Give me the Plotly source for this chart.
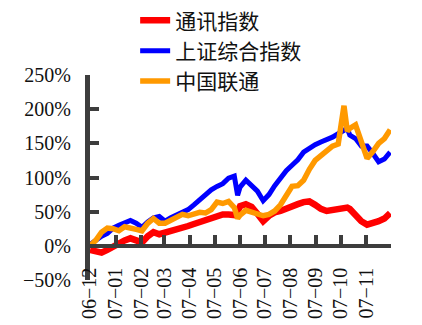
import plotly.graph_objects as go

dates = ["2006-12-01", "2006-12-08", "2006-12-15", "2006-12-22", "2006-12-29",
         "2007-01-05", "2007-01-12", "2007-01-19", "2007-01-26",
         "2007-02-02", "2007-02-09", "2007-02-16", "2007-02-23",
         "2007-03-02", "2007-03-09", "2007-03-16", "2007-03-23", "2007-03-30",
         "2007-04-06", "2007-04-13", "2007-04-20", "2007-04-27",
         "2007-05-04", "2007-05-11", "2007-05-18", "2007-05-25", "2007-05-29",
         "2007-06-01", "2007-06-08", "2007-06-15", "2007-06-22", "2007-06-29",
         "2007-07-06", "2007-07-13", "2007-07-20", "2007-07-27",
         "2007-08-03", "2007-08-10", "2007-08-17", "2007-08-24", "2007-08-31",
         "2007-09-07", "2007-09-14", "2007-09-21", "2007-09-28",
         "2007-10-05", "2007-10-09", "2007-10-12", "2007-10-19", "2007-10-26",
         "2007-11-02", "2007-11-09", "2007-11-16", "2007-11-23", "2007-11-30"]

telecom = [-6, -9, -10, -6, -1,
           3, 8, 11, 8,
           5, 14, 20, 17,
           19, 23, 24, 27, 29,
           32, 35, 38, 41,
           43, 46, 46, 45, 50,
           58, 61, 57, 47, 36,
           44, 49, 51, 55,
           58, 61, 64, 65, 60,
           54, 51, 53, 55,
           56, 56, 54, 45, 36,
           31, 33, 36, 40, 48]

shanghai = [2, 9, 14, 18, 26,
            30, 33, 37, 33,
            27, 35, 41, 43,
            36, 41, 45, 50, 53,
            60, 68, 74, 82,
            87, 91, 99, 102, 74,
            86, 96, 88, 80, 66,
            75, 88, 100, 110,
            118, 126, 137, 143, 148,
            152, 155, 159, 164,
            168, 172, 162, 157, 146,
            146, 135, 123, 127, 137]

unicom = [0, 8, 20, 26, 25,
          22, 28, 27, 24,
          22, 33, 40, 33,
          33, 37, 42, 46, 44,
          46, 49, 48, 53,
          64, 62, 65, 56, 40,
          45, 52, 50, 47, 44,
          46, 51, 60, 75,
          87, 88, 96, 112, 125,
          132, 140, 146, 149,
          205, 168, 172, 177, 155,
          128, 138, 150, 157, 170]

tick_dates = ["2006-12-01", "2007-01-01", "2007-02-01", "2007-03-01", "2007-04-01",
              "2007-05-01", "2007-06-01", "2007-07-01", "2007-08-01", "2007-09-01",
              "2007-10-01", "2007-11-01", "2007-12-01"]
tick_labels = ["06−12", "07−01", "07−02", "07−03", "07−04", "07−05", "07−06",
               "07−07", "07−08", "07−09", "07−10", "07−11", ""]
y_ticks = [-50, 0, 50, 100, 150, 200, 250]
y_labels = ["−50%", "0%", "50%", "100%", "150%", "200%", "250%"]

series_names = ["通讯指数", "上证综合指数", "中国联通"]

axis_color = "#3d3d3d"

fig = go.Figure()
fig.add_trace(go.Scatter(x=dates, y=telecom, mode="lines", name=series_names[0],
                         line=dict(color="#ff0000", width=6.5)))
fig.add_trace(go.Scatter(x=dates, y=shanghai, mode="lines", name=series_names[1],
                         line=dict(color="#0000ff", width=5)))
fig.add_trace(go.Scatter(x=dates, y=unicom, mode="lines", name=series_names[2],
                         line=dict(color="#ff9900", width=5.5)))

ymin, ymax = -50, 250
fig.update_layout(
    width=422, height=325,
    margin=dict(l=90, r=31, t=75, b=45, autoexpand=False),
    plot_bgcolor="white", paper_bgcolor="white",
    font=dict(family="Liberation Serif", size=20, color="#111111"),
    showlegend=True,
    legend=dict(x=0.15, y=1.365, xanchor="left", yanchor="top",
                bgcolor="rgba(0,0,0,0)",
                font=dict(family="Noto Sans CJK SC", size=21, color="#111111"),
                tracegroupgap=0, itemwidth=30),
    xaxis=dict(type="date", range=["2006-12-01", "2007-12-01"],
               anchor="free", position=(0 - ymin) / (ymax - ymin),
               showline=True, linewidth=4, linecolor=axis_color,
               ticks="inside", ticklen=9, tickwidth=4, tickcolor=axis_color,
               tickvals=tick_dates, ticktext=tick_labels, tickangle=-90,
               ticklabelstandoff=12, automargin=False,
               showgrid=False, zeroline=False),
    yaxis=dict(range=[ymin, ymax], tickvals=y_ticks, ticktext=y_labels,
               showline=True, linewidth=5, linecolor=axis_color,
               ticks="inside", ticklen=9, tickwidth=4, tickcolor=axis_color,
               ticklabelstandoff=10, automargin=False,
               showgrid=False, zeroline=False),
)

fig.write_html("out.html")
